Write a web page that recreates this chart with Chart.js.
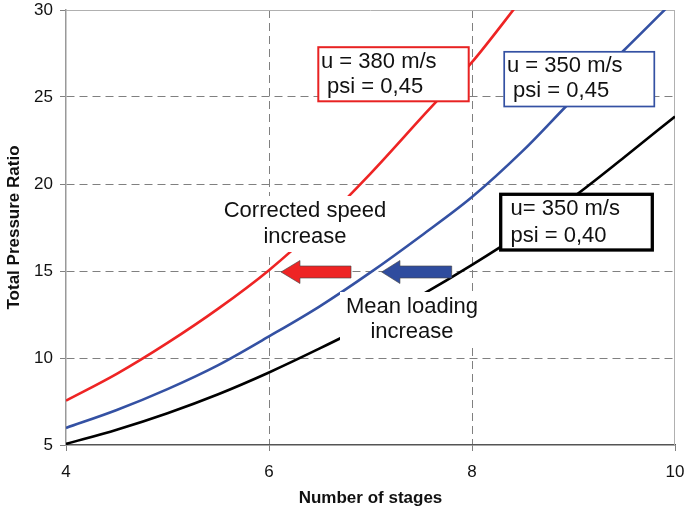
<!DOCTYPE html>
<html>
<head>
<meta charset="utf-8">
<script src="https://cdn.jsdelivr.net/npm/chart.js@4.4.1/dist/chart.umd.min.js"></script>
<style>
  html, body { margin: 0; padding: 0; background: #fff; }
  canvas { display: block; }
</style>
</head>
<body>
<canvas id="prChart" width="684" height="514"></canvas>
<script>
// Total pressure ratio vs. number of stages for three blade speed / loading combos
const stages = [4, 4.5, 5, 5.5, 6, 6.5, 7, 7.5, 8, 8.5, 9, 9.5, 10];
const ratioU380Psi45 = [7.55, 9.09, 10.87, 12.84, 15.05, 17.65, 20.6, 23.8, 27.0, 30.7];
const ratioU350Psi45 = [5.98, 7.01, 8.21, 9.59, 11.24, 12.97, 14.92, 17.03, 19.25, 21.9, 24.9, 27.7, 30.6];
const ratioU350Psi40 = [5.06, 5.88, 6.83, 7.92, 9.17, 10.55, 12.01, 13.61, 15.35, 17.22, 19.26, 21.54, 23.88];
const xTicks = [4, 6, 8, 10];
const yTicks = [5, 10, 15, 20, 25, 30];

const FONT = "'Liberation Sans', Arial, sans-serif";

function toPoints(values) {
    return values.map((v, i) => ({ x: stages[i], y: v }));
}

// white patch behind free-standing text
function textBlock(ctx, rect, lines, cx, baselines) {
    ctx.fillStyle = '#fff';
    ctx.fillRect(rect[0], rect[1], rect[2], rect[3]);
    ctx.fillStyle = '#111';
    ctx.font = '22px ' + FONT;
    ctx.textAlign = 'center';
    ctx.textBaseline = 'alphabetic';
    lines.forEach((t, i) => ctx.fillText(t, cx, baselines[i]));
}

// framed label box
function labelBox(ctx, rect, color, lw, lines, tx, baselines) {
    ctx.fillStyle = '#fff';
    ctx.fillRect(rect[0], rect[1], rect[2], rect[3]);
    ctx.strokeStyle = color;
    ctx.lineWidth = lw;
    ctx.strokeRect(rect[0], rect[1], rect[2], rect[3]);
    ctx.fillStyle = '#111';
    ctx.font = '22px ' + FONT;
    ctx.textAlign = 'left';
    ctx.textBaseline = 'alphabetic';
    lines.forEach((t, i) => ctx.fillText(t, tx, baselines[i]));
}

function arrow(ctx, tipX, baseX, tailX, cy, fill) {
    ctx.beginPath();
    ctx.moveTo(tipX, cy);
    ctx.lineTo(baseX, cy - 11.5);
    ctx.lineTo(baseX, cy - 6);
    ctx.lineTo(tailX, cy - 6);
    ctx.lineTo(tailX, cy + 6);
    ctx.lineTo(baseX, cy + 6);
    ctx.lineTo(baseX, cy + 11.5);
    ctx.closePath();
    ctx.fillStyle = fill;
    ctx.fill();
    ctx.strokeStyle = 'rgba(70,70,70,0.8)';
    ctx.lineWidth = 0.8;
    ctx.stroke();
}

const notesPlugin = {
    id: 'notes',
    beforeDatasetsDraw(chart) {
        const { ctx, chartArea: a } = chart;
        ctx.save();
        ctx.strokeStyle = '#b0b0b0';
        ctx.lineWidth = 1;
        ctx.beginPath();
        ctx.moveTo(a.left, a.top + 0.5);
        ctx.lineTo(a.right, a.top + 0.5);
        ctx.moveTo(a.right - 0.5, a.top);
        ctx.lineTo(a.right - 0.5, a.bottom);
        ctx.stroke();
        ctx.restore();
    },
    afterDatasetsDraw(chart) {
        const { ctx } = chart;
        const xs = chart.scales.x, ys = chart.scales.y;
        ctx.save();

        textBlock(ctx, [220, 196, 170, 56], ['Corrected speed', 'increase'], 305, [217, 243]);
        textBlock(ctx, [340, 292, 142, 56], ['Mean loading', 'increase'], 412, [313, 338]);

        // arrows sit on the PR = 15 line
        const cy = ys.getPixelForValue(15) + 1;
        arrow(ctx, xs.getPixelForValue(6.118), xs.getPixelForValue(6.305), xs.getPixelForValue(6.808), cy, '#ee2424');
        arrow(ctx, xs.getPixelForValue(7.11), xs.getPixelForValue(7.29), xs.getPixelForValue(7.80), cy, '#2f4c9e');

        labelBox(ctx, [318.3, 47.2, 150.4, 54.1], '#e82222', 2, ['u = 380 m/s', ' psi = 0,45'], 321, [68, 93]);
        labelBox(ctx, [504.2, 51.8, 150.1, 54.7], '#3451a3', 1.7, ['u = 350 m/s', ' psi = 0,45'], 507, [72, 97]);
        labelBox(ctx, [500.7, 194.3, 151.6, 55.7], '#000', 3.3, ['u= 350 m/s', 'psi = 0,40'], 510.5, [215, 241.5]);

        ctx.restore();
    }
};

function edgeColor(edges) {
    return ctx => (edges.includes(ctx.tick && ctx.tick.value) ? 'rgba(0,0,0,0)' : '#808080');
}

new Chart(document.getElementById('prChart'), {
    type: 'line',
    data: {
        datasets: [
            {
                label: 'u = 380 m/s, psi = 0,45',
                data: toPoints(ratioU380Psi45),
                borderColor: '#ee2424',
                borderWidth: 2.6
            },
            {
                label: 'u = 350 m/s, psi = 0,45',
                data: toPoints(ratioU350Psi45),
                borderColor: '#3451a3',
                borderWidth: 2.6
            },
            {
                label: 'u = 350 m/s, psi = 0,40',
                data: toPoints(ratioU350Psi40),
                borderColor: '#000',
                borderWidth: 2.6
            }
        ]
    },
    options: {
        responsive: false,
        devicePixelRatio: 1,
        animation: false,
        layout: { padding: { left: 0, right: 9, top: 10, bottom: 0 } },
        elements: {
            point: { radius: 0 },
            line: { cubicInterpolationMode: 'monotone', fill: false }
        },
        plugins: {
            legend: { display: false },
            tooltip: { enabled: false }
        },
        scales: {
            x: {
                type: 'linear',
                min: 4,
                max: 10,
                afterBuildTicks: s => { s.ticks = xTicks.map(v => ({ value: v })); },
                afterFit: s => { s.height = 69; s.paddingLeft = 0; s.paddingRight = 0; },
                ticks: {
                    color: '#111',
                    padding: 11.5,
                    font: { family: FONT, size: 17 }
                },
                grid: {
                    color: edgeColor([4, 10]),
                    tickColor: '#808080',
                    tickLength: 6,
                    lineWidth: 1
                },
                border: { color: '#555', width: 1.5, dash: [8, 5] },
                title: {
                    display: true,
                    text: 'Number of stages',
                    color: '#111',
                    padding: { top: 0, bottom: 5 },
                    font: { family: FONT, size: 17, weight: 'bold' }
                }
            },
            y: {
                type: 'linear',
                min: 5,
                max: 30,
                afterBuildTicks: s => { s.ticks = yTicks.map(v => ({ value: v })); },
                afterFit: s => { s.width = 66; s.paddingTop = 0; s.paddingBottom = 0; },
                ticks: {
                    color: '#111',
                    padding: 7,
                    font: { family: FONT, size: 17 }
                },
                grid: {
                    color: edgeColor([5, 30]),
                    tickColor: '#808080',
                    tickLength: 6,
                    lineWidth: 1
                },
                border: { color: '#999', width: 1.5, dash: [8, 5] },
                title: {
                    display: true,
                    text: 'Total Pressure Ratio',
                    color: '#111',
                    padding: { top: 4.5, bottom: 0 },
                    font: { family: FONT, size: 17, weight: 'bold' }
                }
            }
        }
    },
    plugins: [notesPlugin]
});
</script>
</body>
</html>
